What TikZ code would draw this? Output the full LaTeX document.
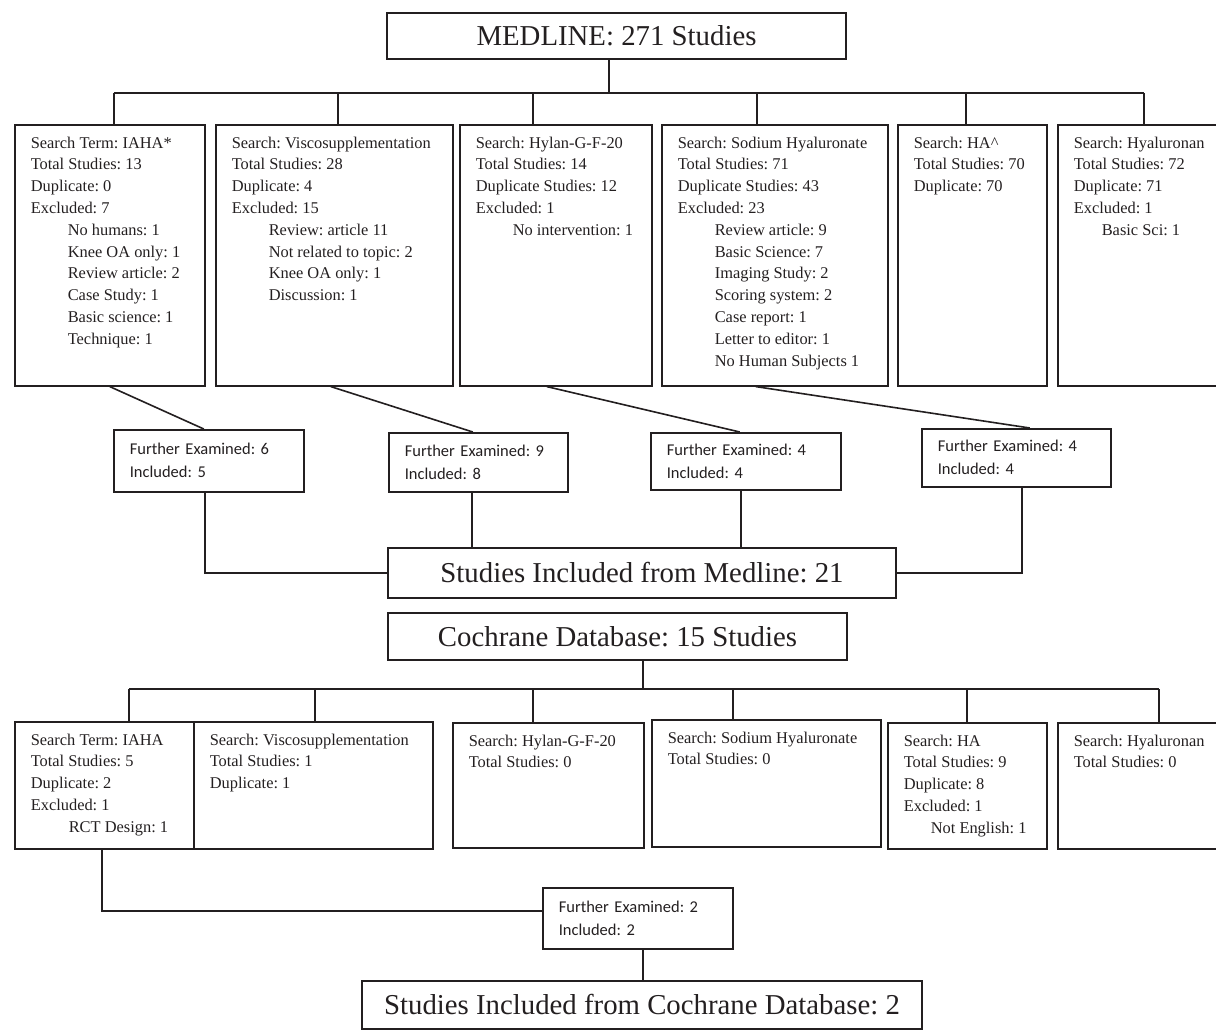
\documentclass[tikz,border=0pt]{standalone}
\usepackage{fontspec}
\setmainfont{Liberation Serif}
\newfontfamily\calibri{Carlito}
\frenchspacing
\definecolor{ink}{RGB}{35,31,32}
\newlength\pady \setlength\pady{12pt}
\newcommand\boxtext[3]{\parbox[t][\dimexpr#2pt-2\pady\relax][t]{\dimexpr#1pt-32pt\relax}{#3}}
\newcommand\reason[1][37]{\hspace*{#1pt}}
\tikzstyle{head}=[draw,inner sep=0pt,font=\fontsize{28.8}{32}\selectfont]
\tikzstyle{search}=[draw,anchor=north west,inner xsep=16pt,inner ysep=\pady,font=\fontsize{16.4}{21.8}\selectfont]
\tikzstyle{exam}=[draw,anchor=north west,align=left,inner xsep=16pt,inner ysep=0pt,font=\calibri\fontsize{16.5}{23}\selectfont]

\begin{document}
\begin{tikzpicture}[x=1pt,y=-1pt,line width=1.6pt,color=ink]
\useasboundingbox (0,0) rectangle (1216,1030);
% Medline
\node[head,minimum width=459,minimum height=46] (medline) at (616.5,36) {MEDLINE: 271 Studies};
\node[search] (m1) at (14,124) {\boxtext{190}{261}{Search Term: IAHA*\\Total Studies: 13\\Duplicate: 0\\Excluded: 7\\\reason No humans: 1\\\reason Knee OA only: 1\\\reason Review article: 2\\\reason Case Study: 1\\\reason Basic science: 1\\\reason Technique: 1}};
\node[search] (m2) at (215,124) {\boxtext{237}{261}{Search: Viscosupplementation\\Total Studies: 28\\Duplicate: 4\\Excluded: 15\\\reason Review: article 11\\\reason Not related to topic: 2\\\reason Knee OA only: 1\\\reason Discussion: 1}};
\node[search] (m3) at (459,124) {\boxtext{192}{261}{Search: Hylan-G-F-20\\Total Studies: 14\\Duplicate Studies: 12\\Excluded: 1\\\reason No intervention: 1}};
\node[search] (m4) at (661,124) {\boxtext{226}{261}{Search: Sodium Hyaluronate\\Total Studies: 71\\Duplicate Studies: 43\\Excluded: 23\\\reason Review article: 9\\\reason Basic Science: 7\\\reason Imaging Study: 2\\\reason Scoring system: 2\\\reason Case report: 1\\\reason Letter to editor: 1\\\reason No Human Subjects 1}};
\node[search] (m5) at (897,124) {\boxtext{149}{261}{Search: HA\textasciicircum\\Total Studies: 70\\Duplicate: 70}};
\node[search] (m6) at (1057,124) {\boxtext{172}{261}{Search: Hyaluronan\\Total Studies: 72\\Duplicate: 71\\Excluded: 1\\\reason[28]Basic Sci: 1}};
\node[exam,text width=158pt,minimum height=62] (fe1) at (113,429) {Further Examined: 6\\Included: 5};
\node[exam,text width=147pt,minimum height=59] (fe2) at (388,432) {Further Examined: 9\\Included: 8};
\node[exam,text width=158pt,minimum height=57] (fe3) at (650,432) {Further Examined: 4\\Included: 4};
\node[exam,text width=157pt,minimum height=58] (fe4) at (921,428) {Further Examined: 4\\Included: 4};
\node[head,minimum width=508,minimum height=50] (minc) at (642,573) {Studies Included from Medline: 21};
\coordinate (mbus) at (0,93);
\draw ([xshift=-7.5]medline.south) -- ([xshift=-7.5]medline.south |- mbus);
\draw ([xshift=4]m1.north |- mbus) -- (m6.north |- mbus);
\foreach \b/\dx in {m1/4,m2/3.5,m3/-23,m4/-18,m5/-6.5,m6/0}
  \draw ([xshift=\dx]\b.north) -- ([xshift=\dx]\b.north |- mbus);
\draw (m1.south) -- ([xshift=-5]fe1.north);
\draw ([xshift=-3.5]m2.south) -- ([xshift=-5.5]fe2.north);
\draw ([xshift=-9]m3.south) -- ([xshift=-6]fe3.north);
\draw ([xshift=-19]m4.south) -- ([xshift=13.5]fe4.north);
\draw ([xshift=-4]fe1.south) |- (minc.west);
\draw ([xshift=-6.5]fe2.south) -- ([xshift=-6.5]fe2.south |- minc.north);
\draw ([xshift=-5]fe3.south) -- ([xshift=-5]fe3.south |- minc.north);
\draw ([xshift=5.5]fe4.south) |- (minc.east);
% Cochrane
\node[head,minimum width=459,minimum height=47] (cochrane) at (617.5,636.5) {Cochrane Database: 15 Studies};
\node[search] (c1) at (14,721) {\boxtext{179}{127}{Search Term: IAHA\\Total Studies: 5\\Duplicate: 2\\Excluded: 1\\\reason[38]RCT Design: 1}};
\node[search] (c2) at (193,721) {\boxtext{239}{127}{Search: Viscosupplementation\\Total Studies: 1\\Duplicate: 1}};
\node[search] (c3) at (452,722) {\boxtext{191}{125}{Search: Hylan-G-F-20\\Total Studies: 0}};
\node[search] (c4) at (651,719) {\boxtext{229}{127}{Search: Sodium Hyaluronate\\Total Studies: 0}};
\node[search] (c5) at (887,722) {\boxtext{159}{126}{Search: HA\\Total Studies: 9\\Duplicate: 8\\Excluded: 1\\\reason[27]Not English: 1}};
\node[search] (c6) at (1057,722) {\boxtext{172}{126}{Search: Hyaluronan\\Total Studies: 0}};
\node[exam,text width=158pt,minimum height=61] (fe5) at (542,887) {Further Examined: 2\\Included: 2};
\node[head,minimum width=560,minimum height=48] (cinc) at (642,1005) {Studies Included from Cochrane Database: 2};
\coordinate (cbus) at (0,689);
\draw ([xshift=25.5]cochrane.south) -- ([xshift=25.5]cochrane.south |- cbus);
\draw ([xshift=24.5]c1.north |- cbus) -- ([xshift=15]c6.north |- cbus);
\foreach \b/\dx in {c1/24.5,c2/1.5,c3/-15.5,c4/-33.5,c5/-0.5,c6/15}
  \draw ([xshift=\dx]\b.north) -- ([xshift=\dx]\b.north |- cbus);
\draw ([xshift=-2.5]c1.south) |- ([yshift=7.5]fe5.west);
\draw ([xshift=5]fe5.south) -- ([xshift=5]fe5.south |- cinc.north);
\end{tikzpicture}
\end{document}
